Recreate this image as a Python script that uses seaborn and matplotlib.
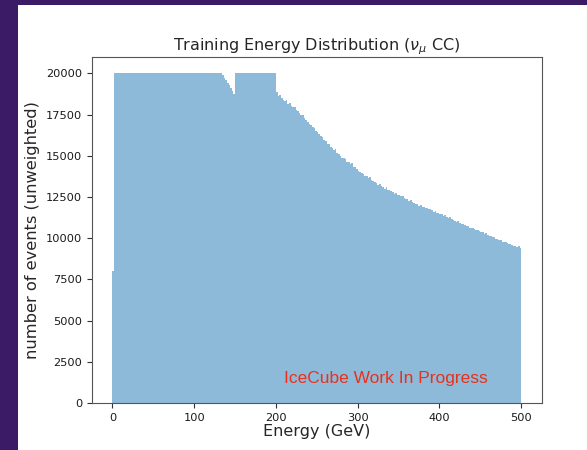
import numpy as np
import pandas as pd
import matplotlib
matplotlib.use("Agg")
import matplotlib.pyplot as plt
import seaborn as sns
from matplotlib.patches import Rectangle

# ---- data: event counts per 2-GeV energy bin (0-500 GeV) ----
bin_width = 2
first_bin = [8000]                                   # 0-2 GeV
flat_low = [20000] * 66                              # 2-134 GeV (capped)
dip = [19900, 19700, 19600, 19400, 19300, 19100, 18950, 18750]  # 134-150 GeV
flat_high = [20000] * 25                             # 150-200 GeV (capped)
tail = [
    18850, 18650, 18700, 18500, 18420,  18300, 18380, 18150, 18200, 18050,
    17950, 17980, 17780, 17700, 17620,  17480, 17500, 17300, 17200, 17080,
    16950, 16900, 16750, 16700, 16500,  16420, 16350, 16200, 16150, 15980,
    15880, 15750, 15720, 15550, 15500,  15350, 15400, 15180, 15100, 15020,
    14900, 14850, 14780, 14620, 14600,  14480, 14550, 14330, 14300, 14200,
    14100, 14050, 13980, 13900, 13800,  13780, 13650, 13700, 13520, 13480,
    13400, 13380, 13250, 13300, 13150,  13100, 13000, 13080, 12900, 12920,
    12850, 12800, 12700, 12760, 12650,  12600, 12550, 12580, 12420, 12400,
    12380, 12250, 12300, 12180, 12150,  12100, 12080, 11980, 12020, 11900,
    11920, 11850, 11820, 11750, 11780,  11700, 11620, 11680, 11550, 11520,
    11500, 11450, 11380, 11420, 11300,  11250, 11280, 11150, 11120, 11050,
    11000, 11020, 10900, 10850, 10880,  10800, 10720, 10750, 10650, 10620,
    10600, 10550, 10480, 10520, 10420,  10400, 10350, 10280, 10300, 10180,
    10150, 10120, 10050, 10080, 9980,   9950, 9900, 9920, 9800, 9780,
    9750, 9720, 9650, 9680, 9580,       9550, 9520, 9480, 9500, 9420,
]                                                    # 200-500 GeV
counts = first_bin + flat_low + dip + flat_high + tail
x_ticks = [0, 100, 200, 300, 400, 500]
y_ticks = [0, 2500, 5000, 7500, 10000, 12500, 15000, 17500, 20000]

title = r"Training Energy Distribution ($\nu_{\mu}$ CC)"
xlabel = "Energy (GeV)"
ylabel = "number of events (unweighted)"
watermark = "IceCube Work In Progress"

# ---- build table ----
n_bins = len(counts)
centers = [bin_width * i + bin_width / 2 for i in range(n_bins)]
df = pd.DataFrame({"energy": centers, "count": counts})

sns.set_style("ticks")
plt.rcParams["font.family"] = ["DejaVu Sans"]

fig = plt.figure(figsize=(5.87, 4.5), dpi=100)
fig.patch.set_facecolor("white")
# purple slide border
fig.patches.append(Rectangle((0, 0), 18 / 587, 1, transform=fig.transFigure,
                             facecolor="#3b1a66", edgecolor="none", zorder=0))
fig.patches.append(Rectangle((0, 1 - 5 / 450), 1, 5 / 450, transform=fig.transFigure,
                             facecolor="#3b1a66", edgecolor="none", zorder=0))

ax = fig.add_axes([92 / 587, 47 / 450, (541.7 - 92) / 587, (403 - 57) / 450])
sns.histplot(data=df, x="energy", weights="count", binwidth=bin_width,
             binrange=(0, bin_width * n_bins), ax=ax,
             color="#1f77b4", alpha=0.5, linewidth=0, element="bars")

ax.set_xlim(-25, 525)
ax.set_ylim(0, 21000)
ax.set_xticks(x_ticks)
ax.set_yticks(y_ticks)
ax.tick_params(labelsize=8.2, length=3.5, width=0.8, colors="#333333",
               labelcolor="#1a1a1a")
for s in ax.spines.values():
    s.set_visible(True)
    s.set_color("#555555")
    s.set_linewidth(0.8)

ax.set_title(title, fontsize=11.5, pad=4)
ax.set_xlabel(xlabel, fontsize=11.5, labelpad=1)
ax.set_ylabel(ylabel, fontsize=11.7, labelpad=4)

ax.text(210, 1500, watermark, color="#e8301c", fontsize=12.5,
        family=["Liberation Sans", "DejaVu Sans"], va="center", ha="left")

fig.savefig("out.png", dpi=100, facecolor=fig.get_facecolor())
